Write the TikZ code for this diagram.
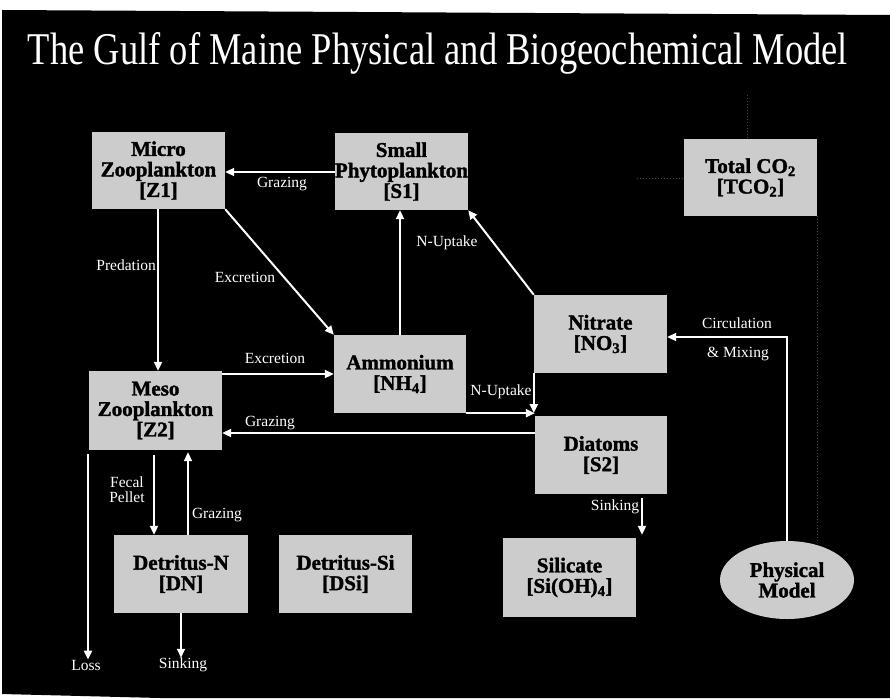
\documentclass[tikz,border=0pt]{standalone}
\usepackage{graphicx}
\usepackage{fontspec}
\setmainfont{Liberation Serif}
\newfontfamily\heavyfont[BoldFeatures={FakeBold=1.6}]{Liberation Serif}
\usetikzlibrary{arrows.meta,shapes.geometric}
\begin{document}
\begin{tikzpicture}[x=1pt,y=-1pt,
  box/.style={fill=black!20, minimum width=133pt, minimum height=77pt, inner sep=0pt, align=center, font=\heavyfont\fontsize{21}{20.5}\selectfont\bfseries, text=black},
  lbl/.style={text=white, font=\fontsize{15.5}{15}\selectfont, inner sep=0pt, align=center},
  arr/.style={draw=white, line width=2pt, -{Triangle[length=9pt,width=8pt]}},
  faint/.style={draw=black!72, line width=1pt, dotted}]
\useasboundingbox (0,0) rectangle (890,698);
\fill[white] (0,0) rectangle (890,698);
\fill[black] (2,10) -- (890,15) -- (890,698) -- (160,698) -- (2,694) -- cycle;

\node[text=white, anchor=base, inner sep=0pt] (title) at (438,65)
  {\resizebox{820pt}{32pt}{\fontsize{40}{40}\selectfont The Gulf of Maine Physical and Biogeochemical Model}};

% boxes
\node[box] (Z1) at (158.5,170.5) {Micro\\Zooplankton\\{}[Z1]};
\node[box] (S1) at (401.5,171.5) {Small\\Phytoplankton\\{}[S1]};
\node[box] (TC) at (750.5,177.5) {Total CO\textsubscript{2}\\{}[TCO\textsubscript{2}]};
\node[box, minimum height=78pt] (NO3) at (600.5,334) {Nitrate\\{}[NO\textsubscript{3}]};
\node[box, minimum width=132pt, minimum height=78pt] (NH4) at (400,374) {Ammonium\\{}[NH\textsubscript{4}]};
\node[box, minimum width=132pt, minimum height=78pt] (S2) at (601,455) {Diatoms\\{}[S2]};
\node[box, minimum height=79pt] (Z2) at (155.5,410.5) {Meso\\Zooplankton\\{}[Z2]};
\node[box, minimum width=134pt, minimum height=78pt] (DN) at (181,574) {Detritus-N\\{}[DN]};
\node[box, minimum height=78pt] (DSi) at (345.5,574) {Detritus-Si\\{}[DSi]};
\node[box, minimum height=79pt] (Si) at (569.5,577.5) {Silicate\\{}[Si(OH)\textsubscript{4}]};
\node[box, ellipse, minimum width=134pt, minimum height=78pt] (PM) at (787,580) {Physical\\Model};

% free-end labels
\node[lbl] (loss) at (86,665) {Loss};
\node[lbl] (sinkN) at (183,665) {Sinking};

% faint dotted links
\coordinate (tctop) at (747,95);
\coordinate (tcleft) at (637,178);
\draw[faint] (tctop) -- (TC.north -| tctop);
\draw[faint] (tcleft) -- (TC.west |- tcleft);
\draw[faint] (TC.south -| 817,0) -- (817,541);

% arrows
\draw[arr] (S1.west |- 0,172) -- (Z1.east |- 0,172);
\node[lbl] at (282,184) {Grazing};

\draw[arr] (Z1.south -| 158,0) -- (Z2.north -| 158,0);
\node[lbl, anchor=east] at (156,265) {Predation};

\draw[arr] (Z1.south east) -- (NH4.north west);
\node[lbl] at (245,277) {Excretion};

\draw[arr] (NH4.north) -- (NH4.north |- S1.south);
\node[lbl] at (447,243) {N-Uptake};

\draw[arr] (NO3.north west) -- (S1.south east);

\draw[arr] (Z2.east |- NH4.west) -- (NH4.west);
\node[lbl] at (275,358) {Excretion};

\draw[arr] (NH4.south east) -- (S2.north west |- NH4.south east);
\draw[arr] (NO3.south west) -- (NO3.south west |- 0,413);
\node[lbl] at (501,392) {N-Uptake};

\draw[arr] (S2.west |- 0,433) -- (Z2.east |- 0,433);
\node[lbl] at (270,423) {Grazing};

\draw[arr, shorten <=5pt] (Z2.south -| 154,0) -- (DN.north -| 154,0);
\node[lbl] at (127,490) {Fecal\\Pellet};

\draw[arr, shorten >=2pt] (DN.north -| 188,0) -- (Z2.south -| 188,0);
\node[lbl] at (217,515) {Grazing};

\draw[arr, shorten <=4pt] (Z2.south -| 88,0) -- (loss.north -| 88,0);
\draw[arr] (DN.south -| 181,0) -- (sinkN.north -| 181,0);

\draw[arr, shorten <=4pt, shorten >=3pt] (S2.south -| 642,0) -- (Si.north -| 642,0);
\node[lbl] at (615,507) {Sinking};

\draw[arr] (PM.north) -- (PM.north |- 0,337) -- (NO3.east |- 0,337);
\node[lbl] at (737,323) {Circulation};
\node[lbl] at (738,354) {\& Mixing};
\end{tikzpicture}
\end{document}
